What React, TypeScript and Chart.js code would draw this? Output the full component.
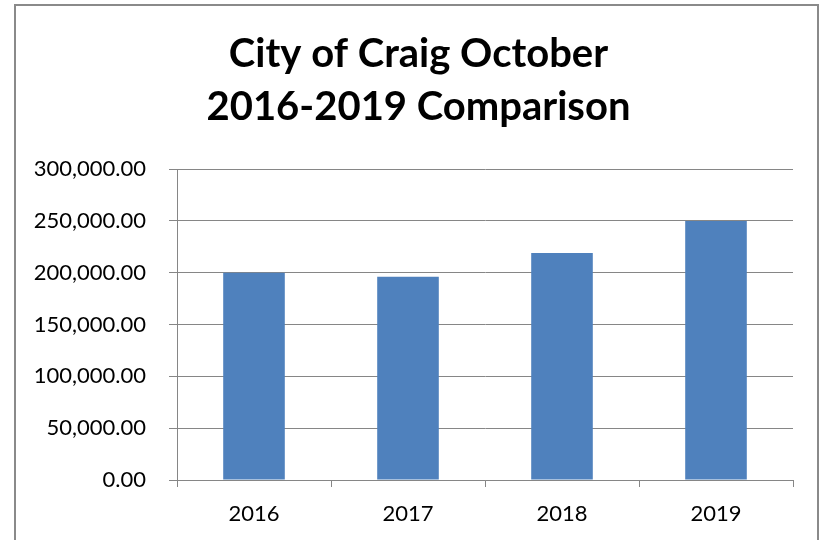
import React, { useEffect, useRef } from "react";
import { Chart, registerables } from "chart.js";

Chart.register(...registerables);

const titleLines = ["City of Craig October", "2016-2019 Comparison"];
const categories = ["2016", "2017", "2018", "2019"];
const values = [199800, 196100, 218900, 249800];
const yMin = 0;
const yMax = 300000;
const yStep = 50000;

const FONT = "Lato, 'Open Sans', sans-serif";

const titleShift = {
  id: "titleShift",
  afterLayout(chart: any) {
    const t = chart.titleBlock;
    if (t) {
      t.left += 24;
    }
  },
};

export default function App() {
  const ref = useRef<HTMLCanvasElement | null>(null);

  useEffect(() => {
    document.body.style.margin = "0";
    const canvas = ref.current;
    if (!canvas) return;
    const chart = new Chart(canvas, {
      type: "bar",
      data: {
        labels: categories,
        datasets: [
          {
            data: values,
            backgroundColor: "#4F81BD",
            borderWidth: 0,
            categoryPercentage: 1,
            barPercentage: 0.4,
          },
        ],
      },
      plugins: [titleShift],
      options: {
        animation: false,
        responsive: false,
        maintainAspectRatio: false,
        layout: { padding: { left: 20, right: 30, top: 10, bottom: 0 } },
        plugins: {
          legend: { display: false },
          tooltip: { enabled: false },
          title: {
            display: true,
            text: titleLines,
            color: "#000000",
            font: { family: FONT, size: 40, weight: "bold", lineHeight: 53 / 40 },
            padding: { top: 18, bottom: 35 },
          },
        },
        scales: {
          x: {
            offset: true,
            grid: {
              display: true,
              drawOnChartArea: false,
              drawTicks: true,
              tickLength: 7,
              color: "#868686",
              offset: true,
            },
            border: { display: true, color: "#868686", width: 1 },
            ticks: {
              color: "#000000",
              font: { family: FONT, size: 22 },
              padding: 14,
              maxRotation: 0,
            },
            afterFit: (scale: any) => {
              scale.height = 60;
            },
          },
          y: {
            min: yMin,
            max: yMax,
            grid: {
              display: true,
              drawOnChartArea: true,
              drawTicks: true,
              tickLength: 8,
              color: "#868686",
            },
            border: { display: true, color: "#868686", width: 1 },
            ticks: {
              stepSize: yStep,
              color: "#000000",
              font: { family: FONT, size: 22 },
              padding: 23,
              callback: (v: any) =>
                Number(v).toLocaleString("en-US", {
                  minimumFractionDigits: 2,
                  maximumFractionDigits: 2,
                }),
            },
            afterFit: (scale: any) => {
              scale.width = 157;
            },
          },
        },
      },
    } as any);
    return () => chart.destroy();
  }, []);

  return (
    <div style={{ position: "fixed", left: 0, top: 0, width: 823, height: 540, background: "#fff", overflow: "hidden" }}>
      <div
        style={{
          position: "absolute",
          left: 14,
          top: 4,
          width: 805,
          height: 600,
          border: "2px solid #8a8a8a",
          boxSizing: "border-box",
        }}
      />
      <canvas ref={ref} width={823} height={540} style={{ position: "absolute", left: 0, top: 0, width: 823, height: 540 }} />
    </div>
  );
}
